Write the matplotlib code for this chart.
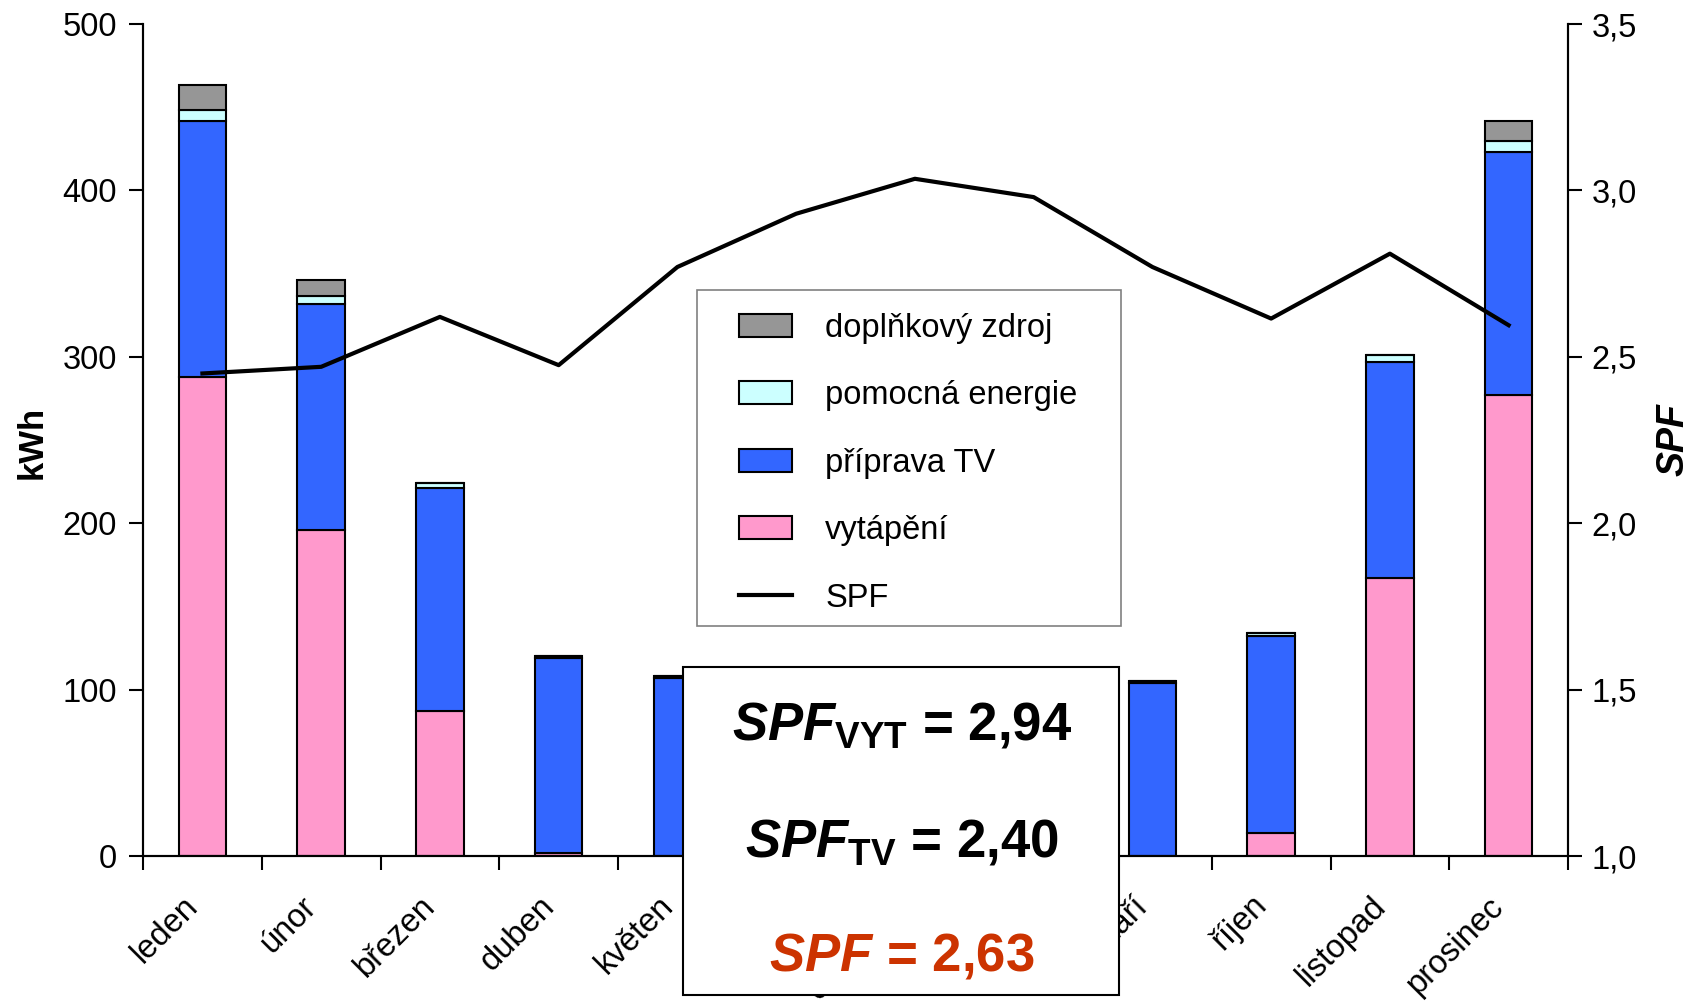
import matplotlib
matplotlib.use('Agg')
import matplotlib.pyplot as plt
from matplotlib import font_manager
from matplotlib.patches import Rectangle
from matplotlib.lines import Line2D
from matplotlib.ticker import FixedLocator, FuncFormatter
from matplotlib.transforms import ScaledTranslation
import numpy as np

months = ['leden', 'únor', 'březen', 'duben', 'květen', 'červen', 'červenec',
          'srpen', 'září', 'říjen', 'listopad', 'prosinec']
vytapeni = [288, 196, 87, 2, 0, 0, 0, 0, 0, 14, 167, 277]
priprava_tv = [153.5, 135.5, 134, 117, 107, 100, 95, 98, 104, 118.5, 130, 146]
pomocna = [7, 5, 3, 1, 1, 1, 1, 1, 1, 1.5, 4, 7]
doplnkovy = [15, 9.5, 0, 0, 0, 0, 0, 0, 0, 0, 0, 12]
spf = [2.45, 2.47, 2.62, 2.475, 2.77, 2.93, 3.035, 2.98, 2.77, 2.615, 2.81, 2.595]

spf_vyt = 2.94
spf_tv = 2.40
spf_total = 2.63

names = {f.name for f in font_manager.fontManager.ttflist}
narrow = 'Liberation Sans Narrow' if 'Liberation Sans Narrow' in names else 'Liberation Sans'
big = 46 if narrow == 'Liberation Sans Narrow' else 38

plt.rcParams['font.family'] = ['Liberation Sans', 'DejaVu Sans']
plt.rcParams['mathtext.fontset'] = 'custom'
plt.rcParams['mathtext.it'] = narrow + ':italic:bold'
plt.rcParams['mathtext.rm'] = narrow + ':bold'
plt.rcParams['mathtext.bf'] = narrow + ':bold'

c_vyt = '#FF99CC'
c_tv = '#3366FF'
c_pom = '#CCFFFF'
c_dop = '#969696'

fig = plt.figure(figsize=(16.99, 10.02), dpi=100)
ax = fig.add_axes([0.0842, 0.1457, 0.8387, 0.8303])
ax2 = ax.twinx()

x = np.arange(len(months))
w = 0.4
kw = dict(width=w, edgecolor='black', linewidth=1.5)
b1 = np.array(vytapeni)
b2 = b1 + np.array(priprava_tv)
b3 = b2 + np.array(pomocna)
ax.bar(x, vytapeni, color=c_vyt, **kw)
ax.bar(x, priprava_tv, bottom=b1, color=c_tv, **kw)
ax.bar(x, pomocna, bottom=b2, color=c_pom, **kw)
ax.bar(x, doplnkovy, bottom=b3, color=c_dop, **kw)

ax2.plot(x, spf, color='black', linewidth=3)

ax.set_xlim(-0.5, len(months) - 0.5)
ax.set_ylim(0, 500)
ax.set_yticks(np.arange(0, 501, 100))
ax2.set_ylim(1.0, 3.5)
ax2.set_yticks(np.arange(1.0, 3.51, 0.5))
ax2.yaxis.set_major_formatter(FuncFormatter(lambda v, p: f'{v:.1f}'.replace('.', ',')))

ax.set_xticks(x)
ax.set_xticklabels(months, rotation=45, ha='right', rotation_mode='anchor')
ax.xaxis.set_minor_locator(FixedLocator(np.arange(-0.5, len(months), 1.0)))
ax.tick_params(axis='x', which='major', length=0, pad=14, labelsize=23.5)
ax.tick_params(axis='x', which='minor', length=10, width=1.5, direction='out')
ax.tick_params(axis='y', length=10, width=1.5, direction='out', labelsize=23.5, pad=9)
ax2.tick_params(axis='y', length=10, width=1.5, direction='out', labelsize=23.5, pad=7)

# nudge the slanted month names down and left
shift = ScaledTranslation(-0.2, -0.15, fig.dpi_scale_trans)
for lbl in ax.get_xticklabels():
    lbl.set_transform(lbl.get_transform() + shift)

for a in (ax, ax2):
    a.spines['top'].set_visible(False)
    for s in ('left', 'right', 'bottom'):
        a.spines[s].set_linewidth(1.5)

fig.text(0.019, 0.558, 'kWh', rotation=90, ha='center', va='center',
         fontsize=25, fontweight='bold')
fig.text(0.985, 0.561, 'SPF', rotation=90, ha='center', va='center',
         fontsize=27, fontweight='bold', style='italic')

# legend with its own frame
handles = [Rectangle((0, 0), 1, 1, facecolor=c_dop, edgecolor='black', linewidth=1.5),
           Rectangle((0, 0), 1, 1, facecolor=c_pom, edgecolor='black', linewidth=1.5),
           Rectangle((0, 0), 1, 1, facecolor=c_tv, edgecolor='black', linewidth=1.5),
           Rectangle((0, 0), 1, 1, facecolor=c_vyt, edgecolor='black', linewidth=1.5),
           Line2D([], [], color='black', linewidth=3)]
labels = ['doplňkový zdroj', 'pomocná energie', 'příprava TV', 'vytápění', 'SPF']
fig.patches.append(Rectangle((0.4102, 0.3752), 0.2496, 0.3353, transform=fig.transFigure,
                             facecolor='white', edgecolor='#808080', linewidth=1.2, zorder=4))
leg = fig.legend(handles, labels, loc='upper left', bbox_to_anchor=(0.435, 0.688),
                 bbox_transform=fig.transFigure, frameon=False, fontsize=23.5,
                 handlelength=1.62, handleheight=0.7, handletextpad=1.02,
                 labelspacing=1.12, borderaxespad=0, borderpad=0)
leg.set_zorder(5)

# summary box over the summer months
fig.patches.append(Rectangle((0.402, 0.007), 0.2566, 0.3273, transform=fig.transFigure,
                             facecolor='white', edgecolor='black', linewidth=1.5, zorder=6))
fmt = lambda v: f'{v:.2f}'.replace('.', ',')
tkw = dict(ha='center', va='baseline', fontsize=big, fontweight='bold', family=narrow, zorder=7)
fig.text(0.531, 0.2615, r'$\mathit{SPF}_{\mathrm{VYT}}$ = ' + fmt(spf_vyt), **tkw)
fig.text(0.531, 0.1457, r'$\mathit{SPF}_{\mathrm{TV}}$ = ' + fmt(spf_tv), **tkw)
fig.text(0.531, 0.0319, r'$\mathit{SPF}$ = ' + fmt(spf_total), color='#CC3300', **tkw)

fig.savefig('out.png', dpi=100)
